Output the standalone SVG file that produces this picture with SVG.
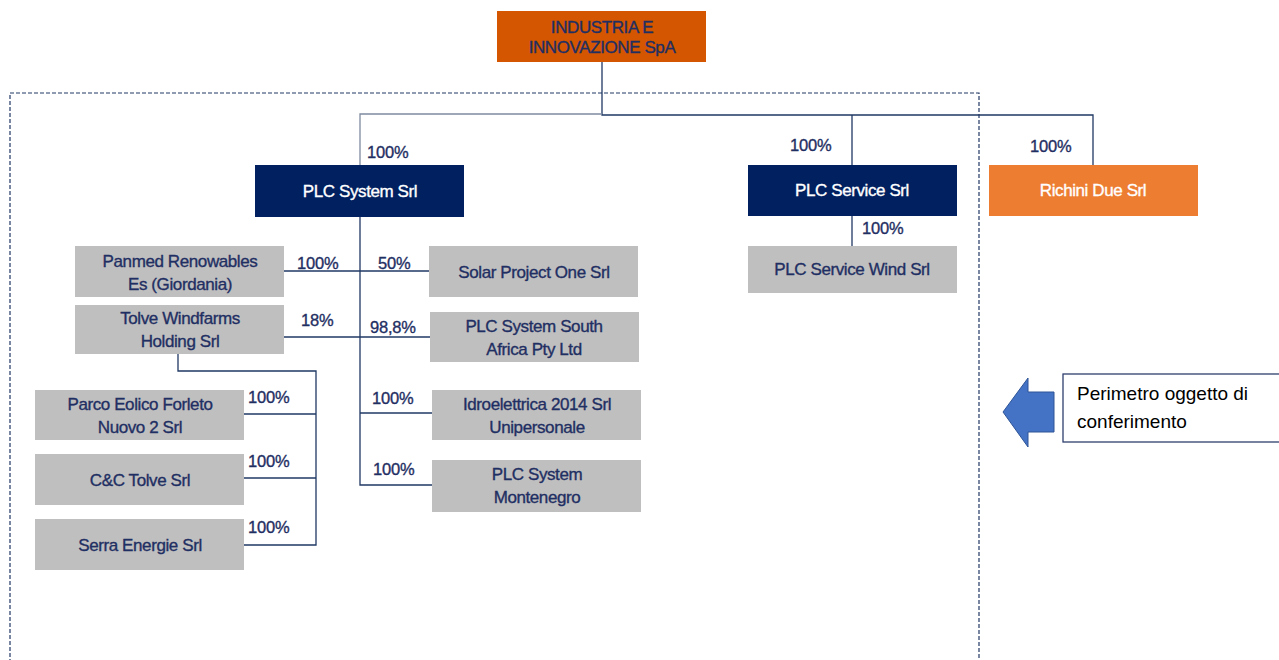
<svg xmlns="http://www.w3.org/2000/svg" width="1279" height="660" viewBox="0 0 1279 660">
<style>
.t{font-family:"Liberation Sans",Arial,sans-serif;font-size:17px;fill:#1F2F63;stroke:#1F2F63;stroke-width:0.35;text-anchor:middle;letter-spacing:-0.4px}
.w{fill:#FFFFFF;stroke:#FFFFFF}
.p{font-family:"Liberation Sans",Arial,sans-serif;font-size:16.5px;fill:#1F2F63;stroke:#1F2F63;stroke-width:0.35;letter-spacing:-0.2px}
.g{fill:#BFBFBF}
.n{fill:#002060}
.c{fill:none;stroke:#1F3864;stroke-width:1.3}
.cg{fill:none;stroke:#7F8AA0;stroke-width:1.3}
</style>
<rect width="1279" height="660" fill="#FFFFFF"/>
<rect x="10" y="93" width="969" height="600" fill="none" stroke="#203864" stroke-width="1.2" stroke-dasharray="4,2"/>
<g id="connectors">
<path class="c" d="M602,62 V115 H1093 V165"/>
<path class="cg" d="M602,114 H360 V165"/>
<path class="c" d="M852,115 V165"/>
<path class="c" d="M852,216 V246"/>
<path class="c" d="M360,217 V485 H432"/>
<path class="c" d="M284,271 H429"/>
<path class="c" d="M284,337 H430"/>
<path class="c" d="M360,413 H432"/>
<path class="c" d="M178,354 V371 H316 V545 H244"/>
<path class="c" d="M244,414 H316"/>
<path class="c" d="M244,478 H316"/>
</g>
<g id="labels">
<text class="p" x="367" y="158">100%</text>
<text class="p" x="790" y="151">100%</text>
<text class="p" x="1030" y="152">100%</text>
<text class="p" x="862" y="234">100%</text>
<text class="p" x="297" y="269">100%</text>
<text class="p" x="378" y="269">50%</text>
<text class="p" x="301" y="326">18%</text>
<text class="p" x="370" y="333">98,8%</text>
<text class="p" x="248" y="403">100%</text>
<text class="p" x="248" y="467">100%</text>
<text class="p" x="248" y="533">100%</text>
<text class="p" x="372" y="404">100%</text>
<text class="p" x="373" y="475">100%</text>
</g>
<g id="industria">
<rect x="497" y="11" width="209" height="51" fill="#D55600"/>
<text class="t" x="602" y="33">INDUSTRIA E</text>
<text class="t" x="602" y="53">INNOVAZIONE SpA</text>
</g>
<g id="plc-system">
<rect class="n" x="255" y="165" width="209" height="52"/>
<text class="t w" x="360" y="197">PLC System Srl</text>
</g>
<g id="plc-service">
<rect class="n" x="748" y="165" width="209" height="51"/>
<text class="t w" x="852" y="196">PLC Service Srl</text>
</g>
<g id="richini">
<rect x="989" y="165" width="209" height="51" fill="#ED7D31"/>
<text class="t w" x="1093" y="196">Richini Due Srl</text>
</g>
<g id="plc-service-wind">
<rect class="g" x="748" y="246" width="209" height="47"/>
<text class="t" x="852" y="275">PLC Service Wind Srl</text>
</g>
<g id="panmed">
<rect class="g" x="75" y="246" width="209" height="51"/>
<text class="t" x="180" y="267">Panmed Renowables</text>
<text class="t" x="180" y="290">Es (Giordania)</text>
</g>
<g id="solar">
<rect class="g" x="429" y="246" width="209" height="51"/>
<text class="t" x="534" y="278">Solar Project One Srl</text>
</g>
<g id="tolve">
<rect class="g" x="75" y="305" width="209" height="49"/>
<text class="t" x="180" y="324">Tolve Windfarms</text>
<text class="t" x="180" y="347">Holding Srl</text>
</g>
<g id="south-africa">
<rect class="g" x="430" y="312" width="209" height="50"/>
<text class="t" x="534" y="332">PLC System South</text>
<text class="t" x="534" y="355">Africa Pty Ltd</text>
</g>
<g id="parco">
<rect class="g" x="35" y="390" width="209" height="50"/>
<text class="t" x="140" y="410">Parco Eolico Forleto</text>
<text class="t" x="140" y="433">Nuovo 2 Srl</text>
</g>
<g id="cc-tolve">
<rect class="g" x="35" y="454" width="209" height="51"/>
<text class="t" x="140" y="486">C&amp;C Tolve Srl</text>
</g>
<g id="serra">
<rect class="g" x="35" y="519" width="209" height="51"/>
<text class="t" x="140" y="551">Serra Energie Srl</text>
</g>
<g id="idroelettrica">
<rect class="g" x="432" y="390" width="209" height="50"/>
<text class="t" x="537" y="410">Idroelettrica 2014 Srl</text>
<text class="t" x="537" y="433">Unipersonale</text>
</g>
<g id="montenegro">
<rect class="g" x="432" y="460" width="209" height="52"/>
<text class="t" x="537" y="480">PLC System</text>
<text class="t" x="537" y="503">Montenegro</text>
</g>
<g id="arrow">
<path d="M1003,412 L1028,378 V392 H1054 V432 H1028 V447 Z" fill="#4472C4" stroke="#2F5597" stroke-width="1"/>
</g>
<g id="perimetro">
<rect x="1063" y="374" width="230" height="68" fill="#FFFFFF" stroke="#2F3F6F" stroke-width="1.3"/>
<text x="1077" y="400" font-family="'Liberation Sans',Arial,sans-serif" font-size="19" fill="#000000">Perimetro oggetto di</text>
<text x="1077" y="428" font-family="'Liberation Sans',Arial,sans-serif" font-size="19" fill="#000000">conferimento</text>
</g>
</svg>
